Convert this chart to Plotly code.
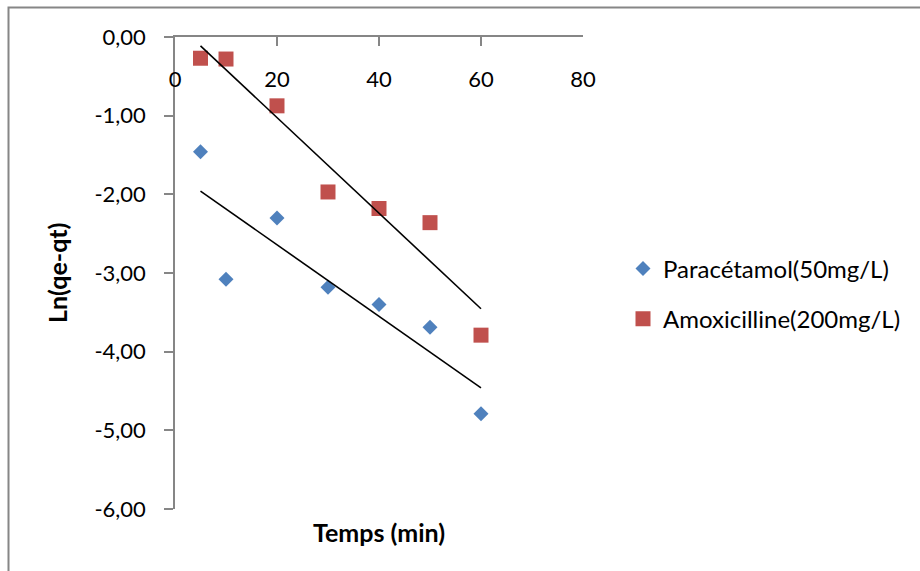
import numpy as np
import plotly.graph_objects as go

# Contact time (min)
temps = [5, 10, 20, 30, 40, 50, 60]

# Ln(qe - qt) for each drug
paracetamol = [-1.46, -3.08, -2.30, -3.18, -3.40, -3.69, -4.79]
amoxicilline = [-0.27, -0.28, -0.875, -1.97, -2.18, -2.36, -3.79]

x_ticks = [0, 20, 40, 60, 80]
y_ticks = [0, -1, -2, -3, -4, -5, -6]
y_ticklabels = ["0,00", "-1,00", "-2,00", "-3,00", "-4,00", "-5,00", "-6,00"]

FONT = "Lato"
AXIS_GREY = "#868686"
BLUE = "#4F81BD"
RED = "#C0504D"

W, H = 920, 571
ML, MR, MT, MB = 175, 337, 37, 62
PW, PH = W - ML - MR, H - MT - MB


def px_to_paper_x(px):
    return (px - ML) / PW


def px_to_paper_y(py):
    return 1 - (py - MT) / PH


fig = go.Figure()

# Scatter points
fig.add_trace(go.Scatter(
    x=temps, y=paracetamol, mode="markers", name="Paracétamol(50mg/L)",
    legendgroup="p",
    marker=dict(symbol="diamond", size=11.5, color=BLUE),
))
fig.add_trace(go.Scatter(
    x=temps, y=amoxicilline, mode="markers", name="Amoxicilline(200mg/L)",
    legendgroup="a",
    marker=dict(symbol="square", size=15, color=RED),
))

# Linear trend lines (least squares) over the measured time span
for series in (paracetamol, amoxicilline):
    slope, intercept = np.polyfit(temps, series, 1)
    xs = [min(temps), max(temps)]
    fig.add_trace(go.Scatter(
        x=xs, y=[slope * v + intercept for v in xs], mode="lines",
        line=dict(color="black", width=1.6), showlegend=False, hoverinfo="skip",
    ))

fig.update_layout(
    width=W, height=H,
    margin=dict(l=ML, r=MR, t=MT, b=MB),
    paper_bgcolor="white", plot_bgcolor="white",
    font=dict(family=FONT, size=22, color="black"),
    showlegend=True,
    legend=dict(
        x=px_to_paper_x(623), y=px_to_paper_y(294), xanchor="left", yanchor="middle",
        font=dict(family=FONT, size=24, color="black"),
        tracegroupgap=16, itemsizing="trace", itemwidth=30,
        bgcolor="rgba(0,0,0,0)",
    ),
    xaxis=dict(
        range=[0, 80], side="top", tickvals=x_ticks,
        ticks="inside", ticklen=9, tickcolor=AXIS_GREY, tickwidth=1.5,
        ticklabelposition="inside", ticklabelstandoff=27, ticklabeloverflow="allow",
        showline=True, linecolor=AXIS_GREY, linewidth=1.5,
        showgrid=False, zeroline=False,
        tickfont=dict(family=FONT, size=22, color="black"),
    ),
    yaxis=dict(
        range=[-6, 0], tickvals=y_ticks, ticktext=y_ticklabels,
        ticks="outside", ticklen=9, tickcolor=AXIS_GREY, tickwidth=1.5,
        ticklabelstandoff=14, ticklabeloverflow="allow",
        showline=True, linecolor=AXIS_GREY, linewidth=1.5,
        showgrid=False, zeroline=False,
        tickfont=dict(family=FONT, size=22, color="black"),
    ),
    annotations=[
        dict(text="<b>Temps (min)</b>", xref="paper", yref="paper",
             x=px_to_paper_x(379), y=px_to_paper_y(532),
             xanchor="center", yanchor="middle", showarrow=False,
             font=dict(family=FONT, size=25, color="black")),
        dict(text="<b>Ln(qe-qt)</b>", xref="paper", yref="paper",
             x=px_to_paper_x(57), y=px_to_paper_y(273), textangle=-90,
             xanchor="center", yanchor="middle", showarrow=False,
             font=dict(family=FONT, size=25, color="black")),
    ],
    shapes=[
        dict(type="rect", xref="paper", yref="paper",
             x0=px_to_paper_x(8.5), x1=px_to_paper_x(W + 50),
             y0=px_to_paper_y(H + 50), y1=px_to_paper_y(7.5),
             line=dict(color=AXIS_GREY, width=2), fillcolor="rgba(0,0,0,0)",
             layer="below"),
    ],
)

fig.write_html("out.html")
